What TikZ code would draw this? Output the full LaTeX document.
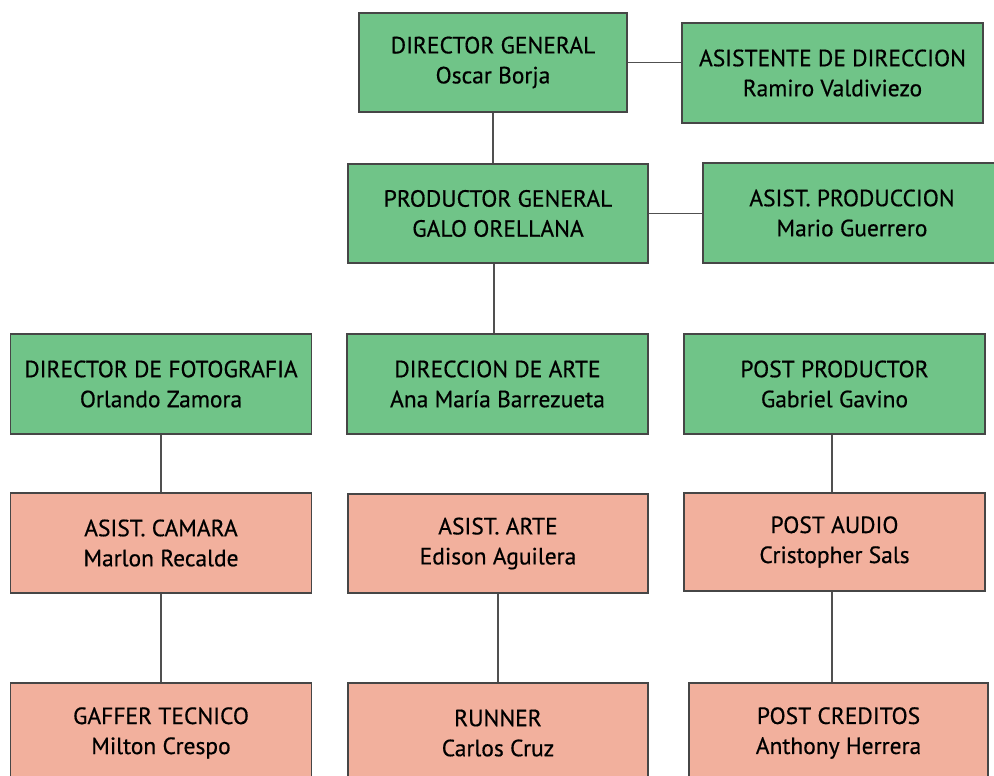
\documentclass[tikz,border=0pt]{standalone}
\usepackage{fontspec}
\setmainfont{PT Sans}[FakeBold=0.5]
\definecolor{boxgreen}{RGB}{112,196,136}
\definecolor{boxsalmon}{RGB}{242,176,157}
\definecolor{edgegray}{RGB}{70,70,70}
\definecolor{linegray}{RGB}{80,80,80}
\tikzset{
  orgbox/.style={draw=edgegray, line width=1.4pt, rectangle, minimum width=301pt, minimum height=100pt,
    inner sep=0pt, align=center, font=\fontsize{23.5}{30}\selectfont},
  greenbox/.style={orgbox, fill=boxgreen},
  pinkbox/.style={orgbox, fill=boxsalmon},
  link/.style={draw=linegray, line width=1.4pt}
}
\begin{document}
\begin{tikzpicture}[x=1pt,y=-1pt]
\useasboundingbox (0,0) rectangle (994,776);
\clip (0,0) rectangle (994,776);
\fill[white] (0,0) rectangle (994,776);
% row 1
\node[greenbox, minimum width=268pt, minimum height=99pt] (dg) at (493,62.5) {DIRECTOR GENERAL\\Oscar Borja};
\node[greenbox] (adir) at (832.5,73) {ASISTENTE DE DIRECCION\\Ramiro Valdiviezo};
% row 2
\node[greenbox, minimum width=300pt, minimum height=99pt] (pg) at (498,213.5) {PRODUCTOR GENERAL\\GALO ORELLANA};
\node[greenbox, minimum width=298pt] (ap) at (852,213) {ASIST. PRODUCCION\\Mario Guerrero};
% row 3
\node[greenbox] (df) at (161,384) {DIRECTOR DE FOTOGRAFIA\\Orlando Zamora};
\node[greenbox] (da) at (497.5,384) {DIRECCION DE ARTE\\Ana María Barrezueta};
\node[greenbox] (pp) at (834.5,384) {POST PRODUCTOR\\Gabriel Gavino};
% row 4
\node[pinkbox] (ac) at (161,543) {ASIST. CAMARA\\Marlon Recalde};
\node[pinkbox, minimum width=300pt, minimum height=99pt] (aa) at (498,543.5) {ASIST. ARTE\\Edison Aguilera};
\node[pinkbox, minimum height=98pt] (pa) at (834.5,542) {POST AUDIO\\Cristopher Sals};
% row 5
\node[pinkbox] (gt) at (161,733) {GAFFER TECNICO\\Milton Crespo};
\node[pinkbox, minimum width=300pt] (ru) at (498,733) {RUNNER\\Carlos Cruz};
\node[pinkbox, minimum width=299pt] (pc) at (838.5,733) {POST CREDITOS\\Anthony Herrera};
% connectors
\draw[link] (dg.east) -- (dg.east -| adir.west);
\draw[link] (dg.south) -- (dg.south |- pg.north);
\draw[link] (pg.east) -- (pg.east -| ap.west);
\draw[link] (da.north) ++(-3.5,0) coordinate (dan) -- (dan |- pg.south);
\draw[link] (df.south) -- (ac.north);
\draw[link] (ac.south) -- (gt.north);
\draw[link] (aa.south) -- (ru.north);
\draw[link] (pp.south) ++(-2.5,0) coordinate (pps) -- (pps |- pa.north);
\draw[link] (pa.south) ++(-2.5,0) coordinate (pas) -- (pas |- pc.north);
\end{tikzpicture}
\end{document}
